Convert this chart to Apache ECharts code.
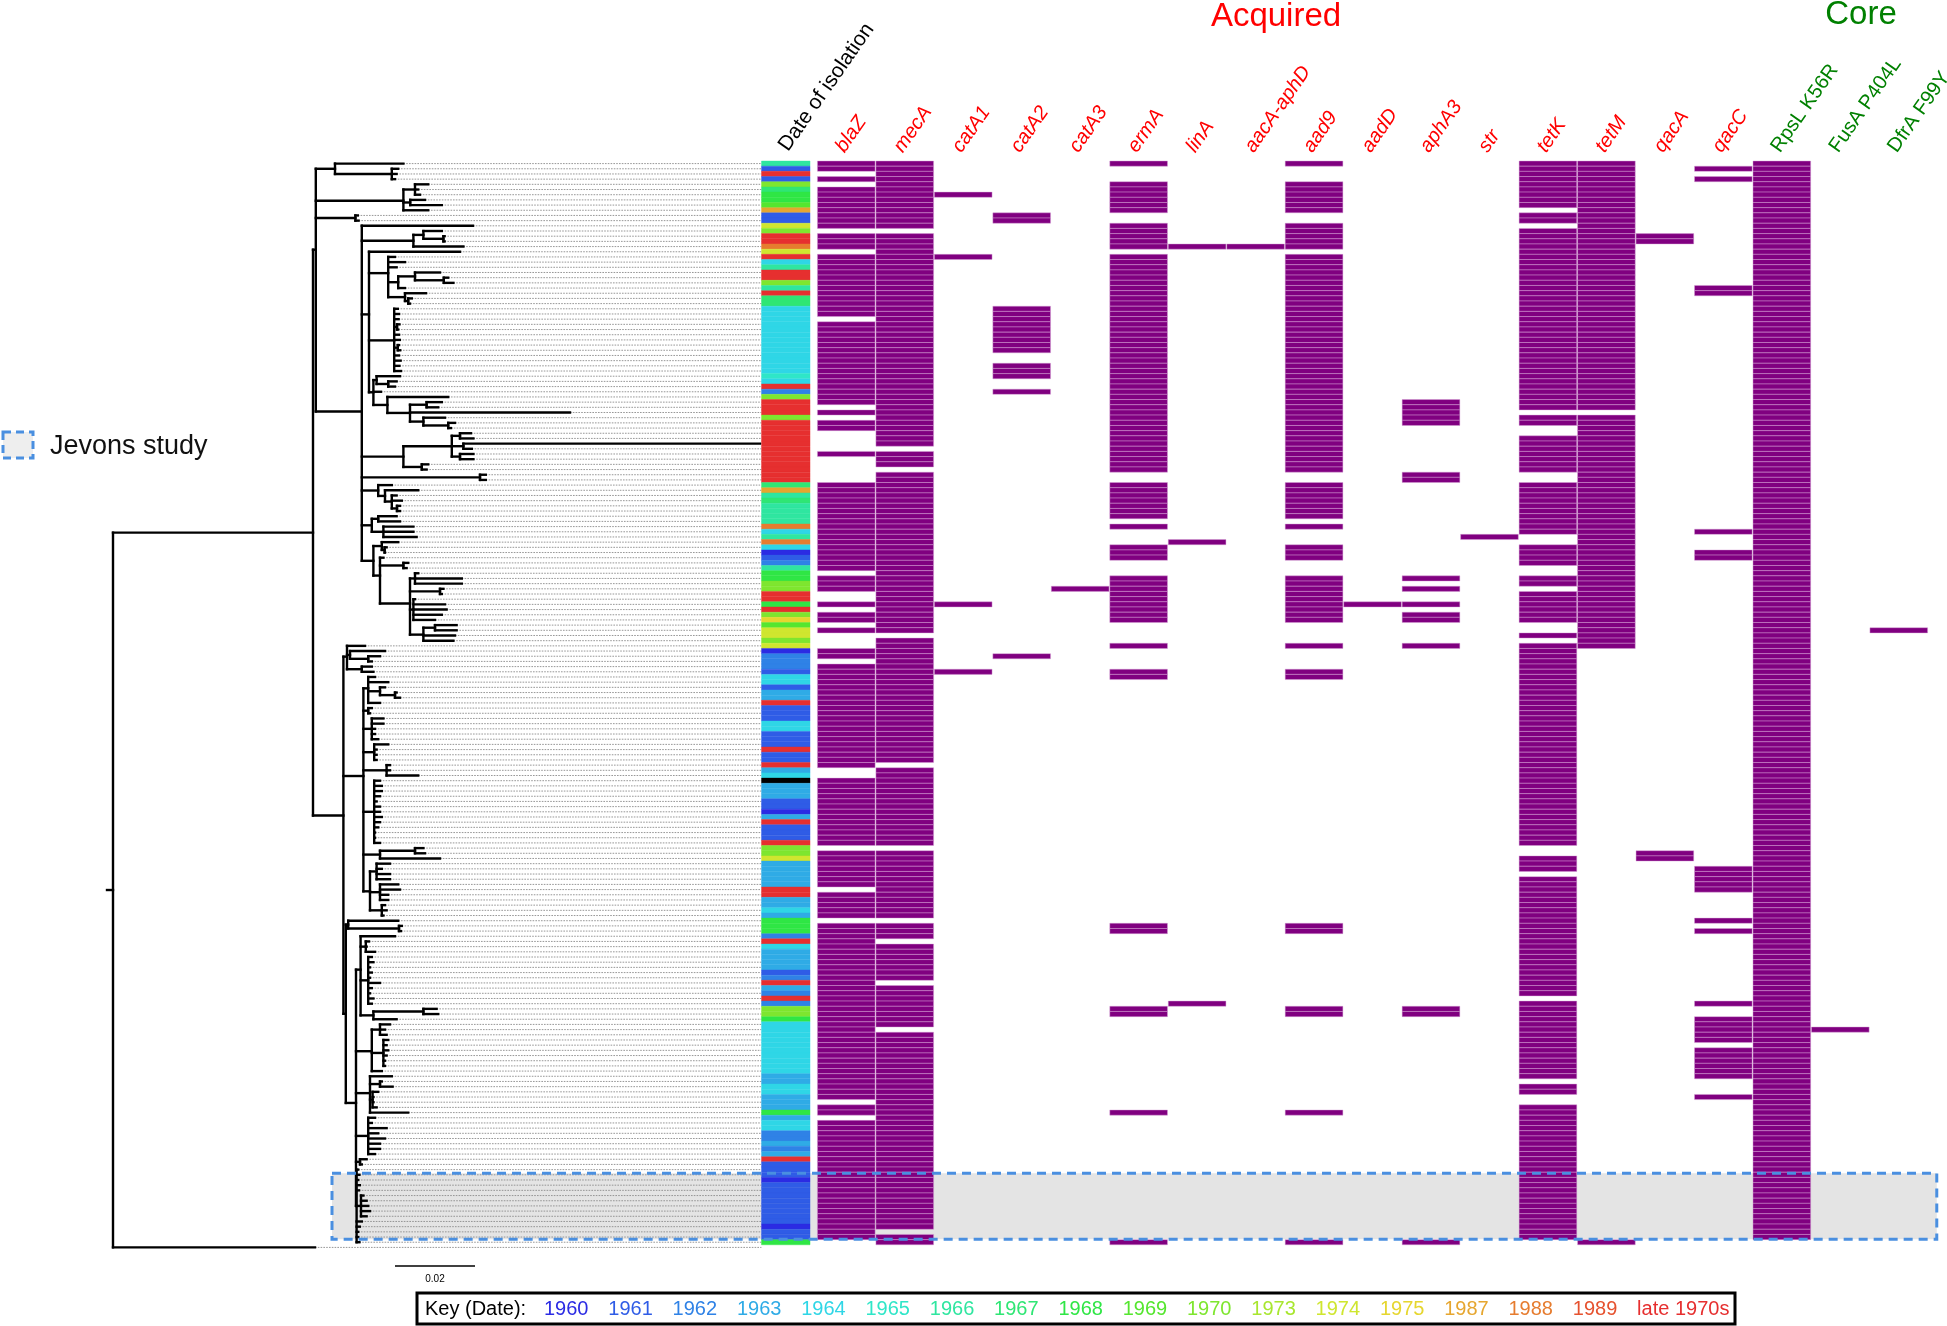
<!DOCTYPE html>
<html><head><meta charset="utf-8">
<script src="https://cdn.jsdelivr.net/npm/echarts@6/dist/echarts.min.js"></script>
<style>html,body{margin:0;padding:0;background:#fff}#c{width:1947px;height:1326px}</style>
</head><body><div id="c"></div>
<script>
// ---------------- DATA ----------------
// Tree clades: leaf = tip depth, "(children)d" = internal node depth. Units: 0.001 substitutions/site from root.
const C1 = "(72.6,(71.3,70.9,70.5)69.7)55.5";
const C2 = "((78.8,76.3,76.75)75.5,(78,82.2)74.3,78.8)72.6";
const C3 = "(61.2,61.4)60.6";
const X1 = "((82.2,(82.9,82.9)82.6)77.6,87.6)75.1";
const CE = "(70.5,73,70.9,((81.75,(83.8,85.1)82.7)75.5,73)71.3,(78.25,(74.7,74.25)73.8)73)68.8";
const CF = "(71.2,71.5,71.4,(71.6,71.3)71,71.5,71.7,(71.5,71.8)71.2,71.5,71.9,71.6,72)70.3";
const CG = "((71.75,(70.9,70.5)68.8)65.9,67,(83.8,((82.2,81.3)78.4,114.25,(83,(85.5,84.5)83.8)77.6)74.25)68.6)65.1";
const CH = "(((89.5,90.1)86.75,(161.75,89.7)87.6,(90.1,90.1)86.75)84.7,(78.8,78.4)77.2)72.6";
const CI = "(93.2,93.2)91.75";
const CJ = "(69.7,(76.3,(70.9,72.2,(71.75,71.75)71)69.7)68)66.3";
const CK = "((70.9,71.75)66.3,(75.1,75.1,75.9)67.6)64.7";
const CL = "((71.3,(68.4,68)67.9)67.2,(67.6,(73.8,73.4)72.6,((76.3,87.2,87.2)75.5,(82.6,82.2)81.75,(75.5,83,83.4,82.2,80.5)75.1,((85.9,85.9)80.5,85.5,85.1)77.6)74.25)66.75)65.1";
const CP = "(63,(68,(66.75,64.7)63.8)59.25,(64.7,65.1)62.2)58.5";
const CQ = "((65.5,68.8,(68,(70.9,71.75)70.5)66.75,66.75)63.8,(64.7,64.25)63.8,(67.6,67.6,65.5,65.5,66.3)64.7,(68.8,65.9,65.9,65.9)65.3,(69.25,69.25,76.3)68.4,(66.75,67.2,67.2,66.75,65.9,66.75,66.75,67.2,66.75,66.3,65.5,65.5,66.75)65.3,((77.6,78)75.5,81.75)66.75,((69.25,67.2,69.25,69.25)65.9,(71.3,71.75,68.8,68.8)66.75,(68,68.4,67.6)67.2)64.25)62.6";
const CR = "(71.3,(72.2,72)71.5)58.8";
const S1 = "(70.5,(64,63.4,65.5)63.2,(64.7,65.1,64.25,64.7,64.25,66.75,64.7,64.25,65.1,64.7)63.8,((80.9,81.3)77.6,70.9)65.1)61.9";
const S2 = "((69.25,68,68.4)66.75,(68.8,68.4,68.8,68.4,68,68)67.6,67.2)64.7";
const S3 = "(69.7,(67.2,69.9)66.75,(66.3,65.1,65.1,65.9)64.9,73.8)64.25";
const S4 = "(65.5,64.7,68.4,66.3,68,66.75,66.75,65.5)63.8";
const S5 = "(63.4,62.2)61.75";
const JV = "(61.3,61.6,61.3,61.7,61.5,(62.6,63.4,63.8,64.25,63.4)62,62.2,61.7,61.3,61.3,61.6)60.9";
const OUTGROUP_DEPTH = 50.5;

const YEARS = ['1960','1961','1962','1963','1964','1965','1966','1967','1968','1969','1970','1973','1974','1975','1987','1988','1989','late 1970s'];
const YEAR_COLORS = ['#2b2be3','#2f5ce6','#2f82e6','#2fabe6','#2fd6e6','#2fe6c8','#2fe6a0','#2fe674','#2fe645','#55e62f','#7ee62f','#a8e62f','#cfe62f','#e6d62f','#e6a62f','#e67c2f','#e6522f','#e62f2f'];
// date of isolation, top to bottom, as [year, number of consecutive rows]; 'NA' = unknown (black)
const ISOLATION = [['1966',1],['1961',1],['late 1970s',1],['1961',1],['1970',1],['1967',1],['1968',2],['1969',1],['1987',1],['1961',2],['1974',1],['1970',1],['late 1970s',2],['1988',1],['1974',1],['late 1970s',1],['1964',1],['1966',1],['late 1970s',2],['1970',1],['1966',1],['late 1970s',1],['1967',2],['1964',13],['1965',1],['1964',1],['late 1970s',1],['1962',1],['1970',1],['late 1970s',3],['1970',1],['late 1970s',12],['1967',1],['1987',1],['1966',1],['1967',1],['1966',4],['1988',1],['1964',1],['1966',1],['1988',1],['1964',1],['1960',1],['1961',1],['1962',1],['1966',1],['1968',2],['1970',2],['late 1970s',2],['1968',1],['late 1970s',1],['1970',1],['1975',1],['1969',1],['1974',2],['1970',1],['1974',1],['1960',1],['1962',3],['1961',1],['1964',2],['1961',1],['1963',2],['late 1970s',1],['1961',3],['1964',2],['1961',3],['late 1970s',1],['1961',2],['late 1970s',1],['1963',1],['1964',1],['NA',1],['1963',3],['1961',2],['1960',1],['1963',1],['late 1970s',1],['1961',3],['late 1970s',1],['1970',2],['1974',1],['1963',5],['late 1970s',2],['1963',2],['1964',1],['1963',1],['1968',3],['1962',1],['late 1970s',1],['1964',1],['1963',4],['1961',1],['1962',1],['late 1970s',1],['1963',1],['1962',1],['late 1970s',1],['1962',1],['1970',2],['1968',1],['1964',10],['1963',2],['1964',2],['1963',3],['1968',1],['1963',1],['1964',2],['1962',2],['1963',1],['1962',1],['1963',1],['late 1970s',1],['1961',3],['1960',1],['1961',8],['1960',1],['1961',2],['1968',1]];

const GENES = ['blaZ','mecA','catA1','catA2','catA3','ermA','linA','aacA-aphD','aad9','aadD','aphA3','str','tetK','tetM','qacA','qacC','RpsL K56R','FusA P404L','DfrA F99Y'];
const CORE_FROM = 16; // first core mutation column
// presence: [firstRow, lastRow] runs
const blaZ = [[0,1],[3,3],[5,12],[14,16],[18,29],[31,46],[48,48],[50,51],[56,56],[62,78],[80,82],[85,85],[87,88],[90,90],[94,95],[97,116],[119,131],[133,139],[141,145],[147,180],[182,183],[185,207]];
const mecA = [[0,12],[14,54],[56,58],[60,90],[92,115],[117,131],[133,145],[147,149],[151,157],[159,166],[168,205],[207,208]];
const catA1 = [[6,6],[18,18],[85,85],[98,98]];
const catA2 = [[10,11],[28,36],[39,41],[44,44],[95,95]];
const catA3 = [[82,82]];
const ermA = [[0,0],[4,9],[12,16],[18,59],[62,68],[70,70],[74,76],[80,88],[93,93],[98,99],[147,148],[163,164],[183,183],[208,208]];
const linA = [[16,16],[73,73],[162,162]];
const aacA_aphD = [[16,16]];
const aad9 = [[0,0],[4,9],[12,16],[18,59],[62,68],[70,70],[74,76],[80,88],[93,93],[98,99],[147,148],[163,164],[183,183],[208,208]];
const aadD = [[85,85]];
const aphA3 = [[46,50],[60,61],[80,80],[82,82],[85,85],[87,88],[93,93],[163,164],[208,208]];
const str = [[72,72]];
const tetK = [[0,8],[10,11],[13,47],[49,50],[53,59],[62,71],[74,77],[80,81],[83,88],[91,91],[93,131],[134,136],[138,160],[162,176],[178,179],[182,207]];
const tetM = [[0,47],[49,93],[208,208]];
const qacA = [[14,15],[133,134]];
const qacC = [[1,1],[3,3],[24,25],[71,71],[75,76],[136,140],[146,146],[148,148],[162,162],[165,169],[171,176],[180,180]];
const rpsL = [[0,207]];
const fusA = [[167,167]];
const dfrA = [[90,90]];
const GENE_RANGES = [blaZ,mecA,catA1,catA2,catA3,ermA,linA,aacA_aphD,aad9,aadD,aphA3,str,tetK,tetM,qacA,qacC,rpsL,fusA,dfrA];

const JEVONS_ROWS = [195, 207];
const KEY_TITLE = 'Key (Date):';
const SCALE_BAR = 20; // = 0.02 substitutions/site

// ---------------- TREE BUILD ----------------
const D_ = `(86.75,${CE},${CF},${CG})64`;
const B_ = `(90,${X1},${D_},${CH},${CI},${CJ},${CK},${CL})62.2`;
const A1 = `(${C1},${C2},${C3},${B_})50.7`;
const S_ = `(${S1},${S2},${S3},${S4},${S5},${JV})60.75`;
const Y_ = `(${CR},${S_})58.2`;
const A2 = `(${CP},${CQ},${Y_})57.6`;
const TREE = `((${A1},${A2})50,${OUTGROUP_DEPTH})0`;

function parseTree(str){
  const s = str.replace(/\s+/g,''); let i = 0;
  function num(){ const j=i; while(i<s.length && /[0-9.]/.test(s[i])) i++; return parseFloat(s.slice(j,i)); }
  function node(){
    if (s[i] === '('){ i++; const c=[]; for(;;){ c.push(node()); if (s[i]===','){ i++; } else { i++; break; } } return {c, d:num()}; }
    return {d:num()};
  }
  return node();
}
const root = parseTree(TREE);
let leafCount = 0;
function lay(n){ if(!n.c){ n.y = leafCount++; return n.y; } let s=0; n.c.forEach(ch=>{ s+=lay(ch); }); n.y = s/n.c.length; return n.y; }
lay(root);
const NROWS = leafCount;
const XMAX = 162.1, XMIN = -1.5;
const branchSegs = [], guideSegs = [];
function segs(n, pd){
  if (pd !== null) branchSegs.push([pd, n.y, n.d, n.y]);
  if (n.c){ const ys = n.c.map(c=>c.y); branchSegs.push([n.d, Math.min(...ys), n.d, Math.max(...ys)]); n.c.forEach(c=>segs(c, n.d)); }
  else guideSegs.push([n.d, n.y, XMAX, n.y]);
}
segs(root, null);
branchSegs.push([XMIN, root.y, 0, root.y]);

// heat data
const stripData = []; let rr = 0;
ISOLATION.forEach(([yr,n])=>{ for(let k=0;k<n;k++){ stripData.push([rr++, YEARS.indexOf(yr)]); } });
const heatData = [];
GENE_RANGES.forEach((rs,g)=>rs.forEach(([s,e])=>{ for(let r=s;r<=e;r++) heatData.push([g,r]); }));

// ---------------- CHART ----------------
const chart = echarts.init(document.getElementById('c'), null, {renderer:'canvas'});
const STRIP_X0 = -0.95, STRIP_X1 = -0.12;
const yAx = i => ({gridIndex:i, type:'value', min:-0.5, max:NROWS-0.5, inverse:true, show:false});
function lineItem(color, width, dash, cap){
  return (params, api) => {
    const a = api.coord([api.value(0), api.value(1)]), b = api.coord([api.value(2), api.value(3)]);
    return {type:'line', shape:{x1:a[0], y1:a[1], x2:b[0], y2:b[1]}, style:{stroke:color, lineWidth:width, lineDash:dash, lineCap:cap}};
  };
}
chart.setOption({
  animation:false,
  grid:[
    {left:107, top:161, width:654.4, height:1089, outerBoundsMode:'none'},
    {left:761.5, top:161, width:1166.5, height:1089, outerBoundsMode:'none'}
  ],
  xAxis:[
    {gridIndex:0, type:'value', min:XMIN, max:XMAX, show:false},
    {gridIndex:1, type:'value', min:STRIP_X0, max:GENES.length, show:false}
  ],
  yAxis:[yAx(0), yAx(1)],
  series:[
    {type:'custom', name:'guides', xAxisIndex:0, yAxisIndex:0, clip:false, z:2,
     data:guideSegs, renderItem:lineItem('#8c8c8c', 0.9, [1.6,1.2], 'butt')},
    {type:'custom', name:'tree', xAxisIndex:0, yAxisIndex:0, clip:false, z:3,
     data:branchSegs, renderItem:lineItem('#000', 2.4, null, 'square')},
    {type:'custom', name:'Date of isolation', xAxisIndex:1, yAxisIndex:1, clip:false, z:3,
     data:stripData,
     renderItem:(params, api) => {
       const r = api.value(0), ci = api.value(1);
       const a = api.coord([STRIP_X0, r-0.5]), b = api.coord([STRIP_X1, r+0.5]);
       const col = ci < 0 ? '#000000' : YEAR_COLORS[ci];
       return {type:'rect', shape:{x:a[0], y:a[1], width:b[0]-a[0], height:b[1]-a[1]}, style:{fill:col, stroke:col, lineWidth:0.4}};
     }},
    {type:'custom', name:'genes', xAxisIndex:1, yAxisIndex:1, clip:false, z:3,
     data:heatData,
     renderItem:(params, api) => {
       const g = api.value(0), r = api.value(1);
       const a = api.coord([g, r-0.5]), b = api.coord([g+1, r+0.5]);
       return {type:'rect', shape:{x:a[0]+0.4, y:a[1], width:b[0]-a[0]-0.8, height:b[1]-a[1]},
               style:{fill:'#800080', stroke:'rgba(215,160,215,0.75)', lineWidth:0.6}};
     }}
  ]
});

// ---------------- ANNOTATIONS ----------------
const P0 = v => chart.convertToPixel({gridIndex:0}, v);
const P1 = v => chart.convertToPixel({gridIndex:1}, v);
const FONT = 'Liberation Sans';
const ROT = 55*Math.PI/180;
const gfx = [];
const top0 = P1([0, -0.5])[1];
GENES.forEach((name,i)=>{
  const p = P1([i+0.53, 0]);
  const core = i >= CORE_FROM;
  gfx.push({type:'text', x:p[0], y:top0-5, rotation:ROT, z:10,
    style:{text:name, fill:core?'#008000':'#ff0000', fontSize:20, fontFamily:FONT, fontStyle:core?'normal':'italic',
           textAlign:'left', align:'left', textVerticalAlign:'bottom', verticalAlign:'bottom'}});
});
{
  const p = P1([STRIP_X0+0.52, 0]);
  gfx.push({type:'text', x:p[0], y:top0-6, rotation:ROT, z:10,
    style:{text:'Date of isolation', fill:'#000', fontSize:21, fontFamily:FONT,
           textAlign:'left', align:'left', textVerticalAlign:'bottom', verticalAlign:'bottom'}});
}
// group headings
gfx.push({type:'text', x:1276, y:0, z:10, style:{text:'Acquired', fill:'#ff0000', fontSize:33, fontFamily:FONT, textAlign:'center', align:'center', textVerticalAlign:'top', verticalAlign:'top'}});
gfx.push({type:'text', x:1861, y:-2, z:10, style:{text:'Core', fill:'#008000', fontSize:33, fontFamily:FONT, textAlign:'center', align:'center', textVerticalAlign:'top', verticalAlign:'top'}});

// Jevons study box
const jTop = P0([54.75, JEVONS_ROWS[0]-0.3]), jBot = P1([19.15, JEVONS_ROWS[1]+0.45]);
gfx.push({type:'rect', z:0, shape:{x:jTop[0], y:jTop[1], width:jBot[0]-jTop[0], height:jBot[1]-jTop[1]}, style:{fill:'#e4e4e4'}});
gfx.push({type:'rect', z:20, shape:{x:jTop[0], y:jTop[1], width:jBot[0]-jTop[0], height:jBot[1]-jTop[1]}, style:{fill:'none', stroke:'#4a8fe0', lineWidth:3, lineDash:[9,6]}});
// legend for Jevons
gfx.push({type:'rect', z:20, shape:{x:3, y:432, width:30, height:26}, style:{fill:'#eeeeee', stroke:'#4a8fe0', lineWidth:3, lineDash:[8,5]}});
gfx.push({type:'text', x:50, y:447, z:20, style:{text:'Jevons study', fill:'#111', fontSize:27, fontFamily:FONT, textAlign:'left', align:'left', textVerticalAlign:'middle', verticalAlign:'middle'}});

// scale bar
const sb0 = P0([70.5, 0])[0], sb1 = P0([70.5+SCALE_BAR, 0])[0];
gfx.push({type:'line', z:10, shape:{x1:sb0, y1:1266, x2:sb1, y2:1266}, style:{stroke:'#000', lineWidth:1.5}});
gfx.push({type:'text', x:(sb0+sb1)/2, y:1279, z:10, style:{text:'0.02', fill:'#000', fontSize:10, fontFamily:FONT, textAlign:'center', align:'center', textVerticalAlign:'middle', verticalAlign:'middle'}});

// key
gfx.push({type:'rect', z:10, shape:{x:417, y:1293, width:1318, height:31}, style:{fill:'#fff', stroke:'#000', lineWidth:3}});
gfx.push({type:'text', x:425, y:1309, z:11, style:{text:KEY_TITLE, fill:'#000', fontSize:20, fontFamily:FONT, textAlign:'left', align:'left', textVerticalAlign:'middle', verticalAlign:'middle'}});
YEARS.forEach((y,i)=>{
  gfx.push({type:'text', x:544+64.3*i, y:1309, z:11, style:{text:y, fill:YEAR_COLORS[i], fontSize:20, fontFamily:FONT, textAlign:'left', align:'left', textVerticalAlign:'middle', verticalAlign:'middle'}});
});
chart.setOption({graphic:gfx});
</script></body></html>
